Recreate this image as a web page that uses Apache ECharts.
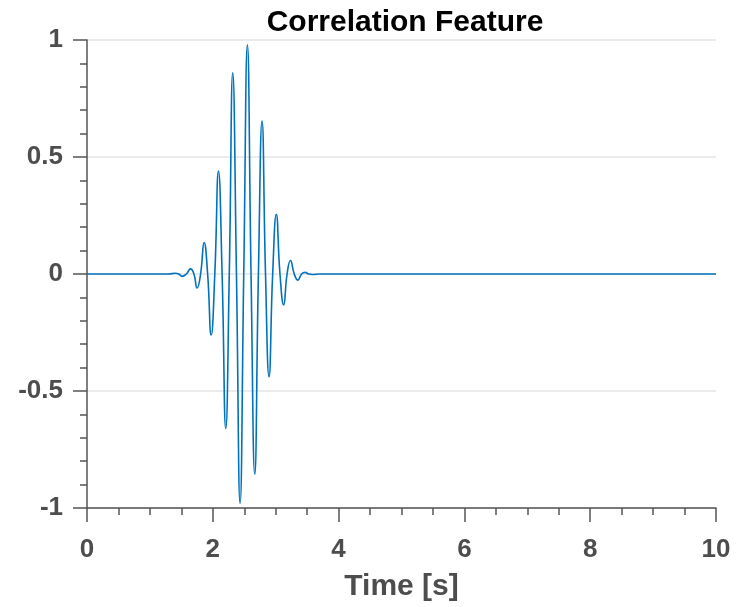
<!DOCTYPE html>
<html>
<head>
<meta charset="utf-8">
<title>Correlation Feature</title>
<script src="https://cdn.jsdelivr.net/npm/echarts@6/dist/echarts.min.js"></script>
<style>
  html, body { margin: 0; padding: 0; background: #fff; }
  #main { width: 736px; height: 607px; }
</style>
</head>
<body>
<div id="main"></div>
<script>
// values: extrema and zero crossings of the packet
var timeS = [0, 1.30, 1.40, 1.46, 1.51, 1.58, 1.646, 1.70, 1.75, 1.806,
  1.862, 1.918, 1.974, 2.032, 2.09, 2.148, 2.206, 2.262, 2.317, 2.376,
  2.434, 2.492, 2.55, 2.608, 2.667, 2.725, 2.783, 2.838, 2.894, 2.952,
  3.01, 3.068, 3.127, 3.181, 3.235, 3.295, 3.354, 3.411, 3.468, 3.524,
  3.58, 3.70, 10];
var feature = [0, 0, 0.003, 0, -0.010, 0, 0.022, 0, -0.060, 0,
  0.134, 0, -0.261, 0, 0.44, 0, -0.66, 0, 0.86, 0,
  -0.98, 0, 0.98, 0, -0.856, 0, 0.654, 0, -0.439, 0,
  0.255, 0, -0.132, 0, 0.058, 0, -0.026, 0, 0.007, 0,
  -0.002, 0, 0];
var xRange = [0, 10];
var yRange = [-1, 1];

var axisColor = '#555';
var labelColor = '#4d4d4d';

var myChart = echarts.init(document.getElementById('main'));
myChart.setOption({
  animation: false,
  title: {
    text: 'Correlation Feature',
    left: 400,
    textAlign: 'center',
    top: 3,
    textStyle: {
      fontFamily: 'Liberation Sans',
      fontSize: 30,
      fontWeight: 'bold',
      color: '#000'
    }
  },
  grid: {
    left: 87,
    right: 20,
    top: 40,
    bottom: 99
  },
  xAxis: {
    type: 'value',
    min: xRange[0],
    max: xRange[1],
    interval: 2,
    name: 'Time [s]',
    nameLocation: 'middle',
    nameGap: 64,
    nameTextStyle: {
      fontFamily: 'Liberation Sans',
      fontSize: 30,
      fontWeight: 'bold',
      color: labelColor
    },
    axisLine: { show: true, onZero: false, lineStyle: { color: axisColor, width: 1.5 } },
    axisTick: { show: true, inside: false, length: 14, lineStyle: { color: axisColor, width: 1.5 } },
    minorTick: { show: true, splitNumber: 4, length: 7, lineStyle: { color: axisColor, width: 1.5 } },
    axisLabel: {
      margin: 29,
      fontFamily: 'Liberation Sans',
      fontSize: 26,
      fontWeight: 'bold',
      color: labelColor
    },
    splitLine: { show: false }
  },
  yAxis: {
    type: 'value',
    min: yRange[0],
    max: yRange[1],
    interval: 0.5,
    axisLine: { show: true, lineStyle: { color: axisColor, width: 1.5 } },
    axisTick: { show: true, inside: false, length: 14, lineStyle: { color: axisColor, width: 1.5 } },
    minorTick: { show: true, splitNumber: 5, length: 7, lineStyle: { color: axisColor, width: 1.5 } },
    axisLabel: {
      margin: 24,
      fontFamily: 'Liberation Sans',
      fontSize: 26,
      fontWeight: 'bold',
      color: labelColor
    },
    splitLine: { show: true, lineStyle: { color: '#e5e5e5', width: 1.5 } }
  },
  series: [
    {
      name: 'Correlation',
      type: 'line',
      data: timeS.map(function (t, i) { return [t, feature[i]]; }),
      smooth: 0.5,
      showSymbol: false,
      lineStyle: { color: '#0072BD', width: 1.6 },
      z: 3
    }
  ]
});
</script>
</body>
</html>
